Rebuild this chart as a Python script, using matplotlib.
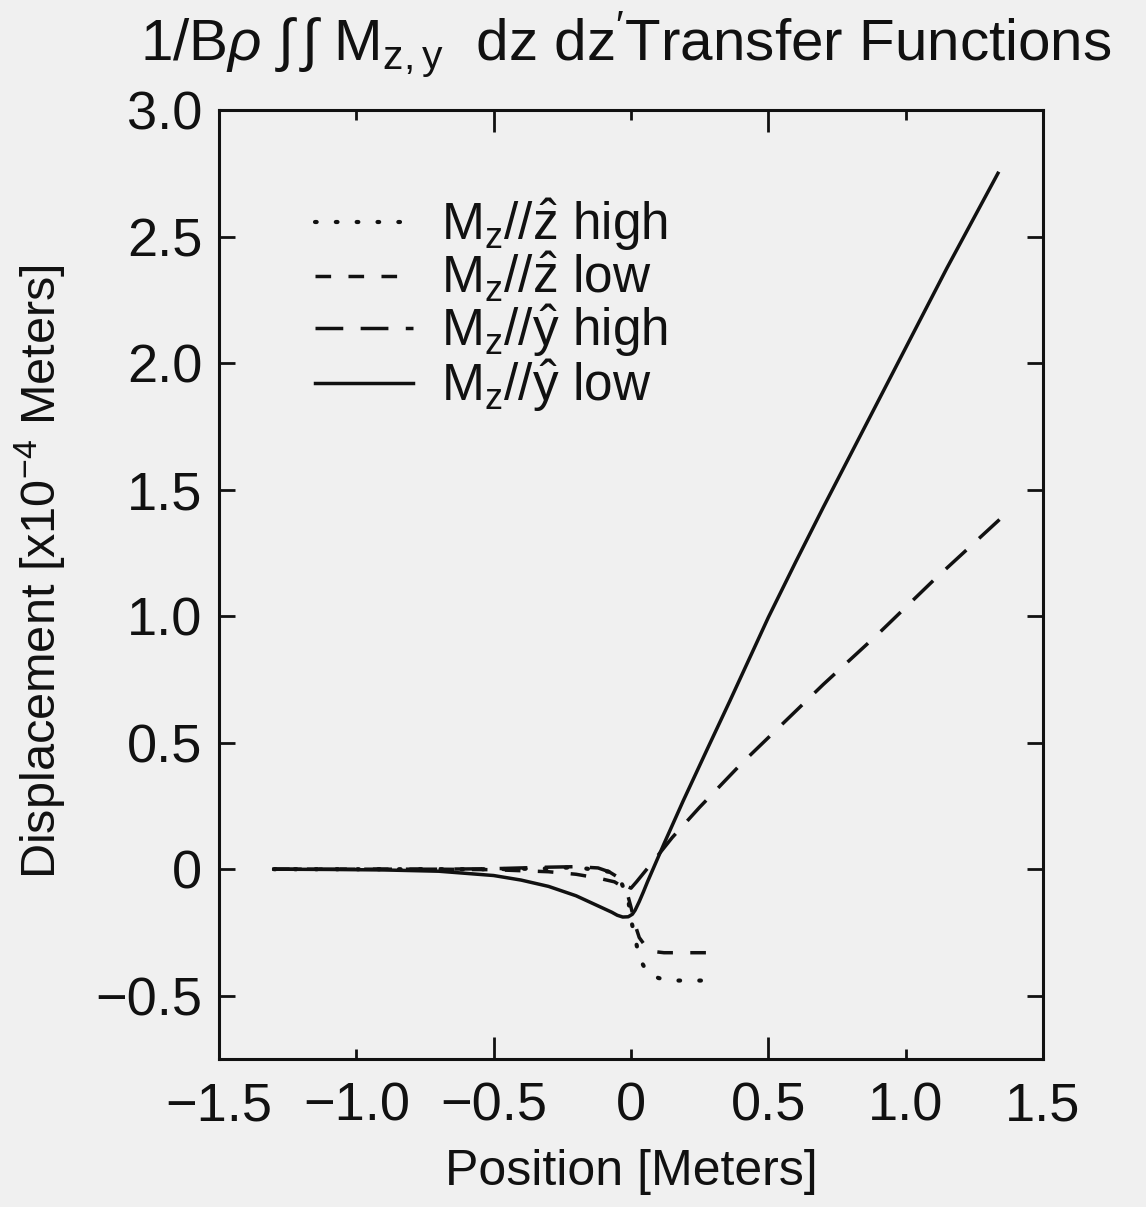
import matplotlib
matplotlib.use("Agg")
import matplotlib.pyplot as plt
import numpy as np

plt.rcParams['font.family'] = ['Liberation Sans', 'DejaVu Sans']
plt.rcParams['mathtext.fontset'] = 'custom'
plt.rcParams['mathtext.rm'] = 'Liberation Sans'
plt.rcParams['mathtext.it'] = 'Liberation Sans:italic'
plt.rcParams['mathtext.bf'] = 'Liberation Sans:bold'
plt.rcParams['axes.unicode_minus'] = True

# transfer functions, displacement in units of 1e-4 m
x_y_low = [-1.3, -1.1, -0.9, -0.7, -0.5, -0.4, -0.3, -0.2, -0.12, -0.07, -0.05,
           -0.03, -0.01, 0.005, 0.015, 0.03, 0.045, 0.06, 0.08, 0.12, 0.19,
           0.28, 0.36, 0.43, 0.5, 0.6, 0.7, 0.8, 1.0, 1.15, 1.336]
d_y_low = [0.0, -0.001, -0.003, -0.008, -0.025, -0.043, -0.068, -0.105, -0.145,
           -0.170, -0.182, -0.189, -0.188, -0.178, -0.162, -0.128, -0.09, -0.05,
           0.0, 0.10, 0.27, 0.48, 0.665, 0.83, 0.995, 1.215, 1.43, 1.64, 2.06,
           2.375, 2.75]

x_y_high = [-1.3, -1.0, -0.7, -0.5, -0.3, -0.2, -0.12, -0.08, -0.05, -0.02, 0.0,
            0.02, 0.05, 0.08, 0.15, 0.25, 0.4, 0.5, 0.7, 0.9, 1.1, 1.35]
d_y_high = [0.0, 0.0, 0.0, 0.002, 0.008, 0.01, 0.005, -0.01, -0.03, -0.065,
            -0.075, -0.05, -0.01, 0.03, 0.125, 0.245, 0.415, 0.52, 0.73, 0.93,
            1.14, 1.39]

x_z_low = [-1.3, -1.0, -0.7, -0.5, -0.3, -0.2, -0.12, -0.06, -0.03, -0.01, 0.0,
           0.015, 0.03, 0.05, 0.08, 0.12, 0.3]
d_z_low = [0.0, 0.0, 0.0, -0.002, -0.01, -0.02, -0.035, -0.05, -0.07, -0.11,
           -0.15, -0.22, -0.27, -0.30, -0.325, -0.33, -0.33]

x_z_high = [-1.3, -1.0, -0.7, -0.5, -0.3, -0.2, -0.08, -0.04, -0.01, 0.0, 0.015,
            0.03, 0.05, 0.07, 0.1, 0.14, 0.3]
d_z_high = [0.0, 0.0, 0.0, 0.0, 0.003, 0.008, -0.01, -0.04, -0.12, -0.2, -0.27,
            -0.35, -0.39, -0.415, -0.43, -0.44, -0.44]

labels = [r"M$_{\mathrm{z}}$//$\hat{\mathrm{z}}$ high",
          r"M$_{\mathrm{z}}$//$\hat{\mathrm{z}}$ low",
          r"M$_{\mathrm{z}}$//$\hat{\mathrm{y}}$ high",
          r"M$_{\mathrm{z}}$//$\hat{\mathrm{y}}$ low"]

x_major = [-1.5, -0.5, 0.5, 1.5]
x_major_lbl = ["\u22121.5", "\u22120.5", "0.5", "1.5"]
x_minor = [-1.0, 0.0, 1.0]
x_minor_lbl = ["\u22121.0", "0", "1.0"]
y_ticks = [-0.5, 0, 0.5, 1.0, 1.5, 2.0, 2.5, 3.0]
y_tick_lbl = ["\u22120.5", "0", "0.5", "1.0", "1.5", "2.0", "2.5", "3.0"]

bg = '#f0f0f0'
ink = '#111111'

fig = plt.figure(figsize=(11.46, 12.07), dpi=100, facecolor=bg)
ax = fig.add_axes([219/1146, 1 - 1059/1207, 824/1146, 949/1207], facecolor=bg)

lw = 2.5
ax.plot(x_z_high, d_z_high, color=ink, lw=3.0, linestyle=(0, (0.4, 4.6)),
        dash_capstyle='round', label=labels[0])
ax.plot(x_z_low, d_z_low, color=ink, lw=lw, linestyle=(0, (4.5, 5)), label=labels[1])
ax.plot(x_y_high, d_y_high, color=ink, lw=lw, linestyle=(0, (8, 5)), label=labels[2])
ax.plot(x_y_low, d_y_low, color=ink, lw=lw, linestyle='-', label=labels[3],
        solid_joinstyle='round')

ax.set_xlim(-1.5, 1.5)
ax.set_ylim(-0.75, 3.0)

ax.set_xticks(x_major, x_major_lbl)
ax.set_xticks(x_minor, x_minor_lbl, minor=True)
ax.set_yticks(y_ticks, y_tick_lbl)
ax.yaxis.set_minor_locator(matplotlib.ticker.NullLocator())

ax.tick_params(axis='both', which='both', direction='in', top=True, right=True,
               width=2, color=ink, labelsize=39, labelcolor=ink)
ax.tick_params(axis='x', which='major', length=16, pad=16)
ax.tick_params(axis='x', which='minor', length=7, pad=16)
ax.tick_params(axis='y', which='major', length=11.5, pad=12)

for s in ax.spines.values():
    s.set_linewidth(2.2)
    s.set_color(ink)

leg = ax.legend(loc='upper left', bbox_to_anchor=(0.1165, 0.909), frameon=False,
                fontsize=37, handlelength=1.9, handletextpad=0.55,
                labelspacing=-0.05, borderpad=0, borderaxespad=0)
for t in leg.get_texts():
    t.set_color(ink)

fig.text(140/1146, 1 - 60/1207,
         r"1/B$\rho$ $\int\,\int$ M$_{\mathrm{z,y}}$  dz dz$^{\prime}$Transfer Functions",
         fontsize=42, ha='left', va='baseline', color=ink)
fig.text(631/1146, 1 - 1185/1207, "Position [Meters]", fontsize=36,
         ha='center', va='baseline', color=ink)
fig.text(40/1146, 1 - 572/1207, r"Displacement [x10$^{-4}$ Meters]", fontsize=35,
         rotation=90, ha='center', va='center', color=ink)

fig.savefig("out.png", dpi=100, facecolor=bg)
